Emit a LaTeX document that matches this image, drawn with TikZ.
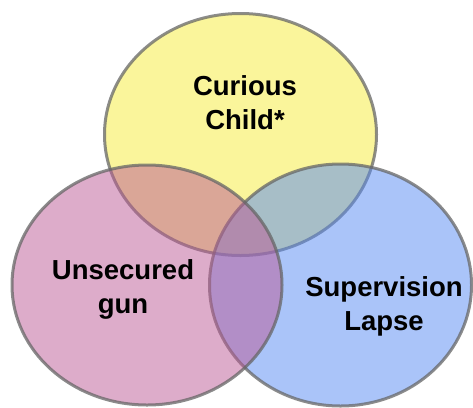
\documentclass[tikz,border=0pt]{standalone}
\usepackage{fontspec}
\setmainfont{Liberation Sans}
\begin{document}
\begin{tikzpicture}[x=1pt,y=-1pt,
  setcircle/.style={draw=black!60, line width=3pt, draw opacity=0.75, fill opacity=0.5},
  setlabel/.style={font=\bfseries\fontsize{27.5}{34}\selectfont, align=center, inner sep=0pt, text=black}]
  \definecolor{ychild}{RGB}{245,235,55}
  \definecolor{pgun}{RGB}{187,89,149}
  \definecolor{bsup}{RGB}{85,137,243}
  \useasboundingbox (0,0) rectangle (473,407);
  % the three sets
  \path[setcircle, fill=ychild] (240.5,134.5) ellipse [x radius=136, y radius=121];
  \path[setcircle, fill=bsup]   (340.5,285) ellipse [x radius=131, y radius=121];
  \path[setcircle, fill=pgun]   (147,285) ellipse [x radius=135, y radius=120];
  % labels
  \node[setlabel] (child) at (245,102.5) {Curious\\Child*};
  \node[setlabel] (gun)   at (123,289)   {Unsecured\\gun};
  \node[setlabel] (lapse) at (384,306.5) {Supervision\\Lapse};
\end{tikzpicture}
\end{document}
